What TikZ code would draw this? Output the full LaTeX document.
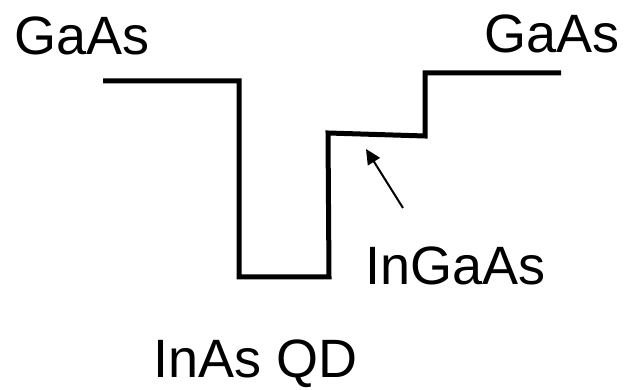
\documentclass[tikz,border=0pt]{standalone}
\usepackage{fontspec}
\setmainfont{Liberation Sans}
\usetikzlibrary{arrows.meta}
\begin{document}
\begin{tikzpicture}[x=1pt,y=1pt,
  lbl/.style={anchor=base west,inner sep=0pt,font=\fontsize{54}{62}\selectfont},
  band/.style={line width=5pt,line join=miter,line cap=butt},
  pointer/.style={line width=2pt,-{Triangle[length=15pt,width=14pt]}}]
\useasboundingbox (0,0) rectangle (624,390);
% band edge coordinates
\coordinate (p1) at (103,309);
\coordinate (p2) at (239,309);
\coordinate (p3) at (239,113);
\coordinate (p4) at (329,113);
\coordinate (p5) at (328,257);
\coordinate (p6) at (425,254);
\coordinate (p7) at (425,317);
\coordinate (p8) at (561,317);
\draw[band] (p1) -- (p2) -- (p3) -- (p4) -- (p5) -- (p6) -- (p7) -- (p8);
% labels
\node[lbl] (gl) at (14,335) {GaAs};
\node[lbl] (gr) at (484,337) {GaAs};
\node[lbl] (ig) at (365,105) {InGaAs};
\node[lbl] (qd) at (153,12) {InAs QD};
% arrow
\coordinate (atail) at (403,182);
\coordinate (ahead) at (366,241);
\draw[pointer] (atail) -- (ahead);
\end{tikzpicture}
\end{document}
